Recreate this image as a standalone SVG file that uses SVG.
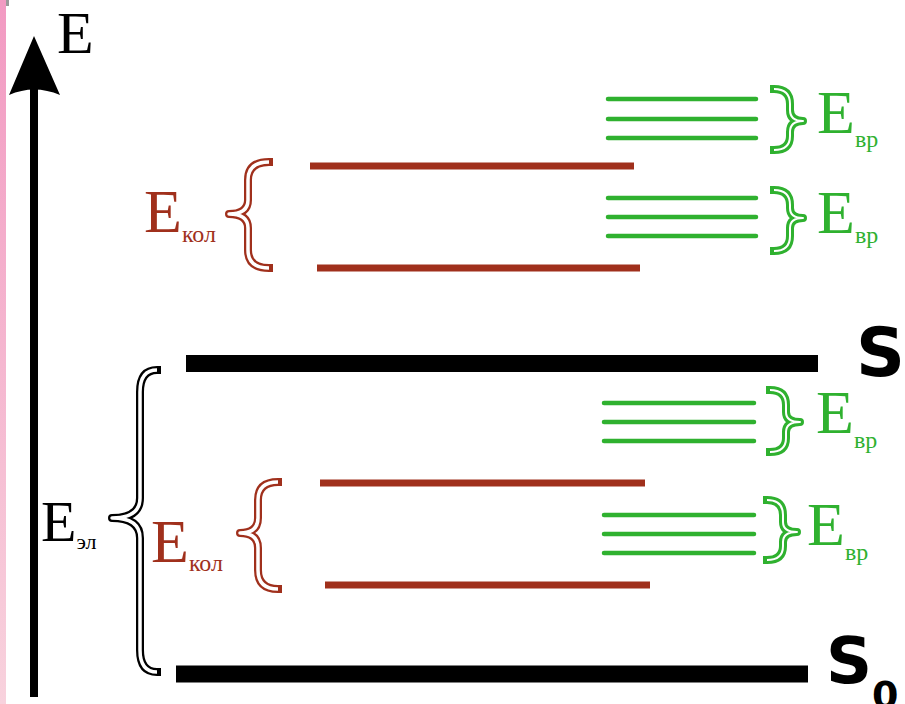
<svg xmlns="http://www.w3.org/2000/svg" width="905" height="704" viewBox="0 0 905 704">
<defs>
<linearGradient id="pink" x1="0" y1="0" x2="0" y2="1">
<stop offset="0" stop-color="#f29ac2"/>
<stop offset="1" stop-color="#f8d2dd"/>
</linearGradient>
</defs>
<style>
.lvl{stroke:#000;stroke-width:17;stroke-linecap:butt}
.vib{stroke:#a0301c;stroke-width:7;stroke-linecap:butt}
.rot{stroke:#2fb12f;stroke-width:4.5;stroke-linecap:round}
.bo{fill:none;stroke-linejoin:round;stroke-linecap:square}
.bi{fill:none;stroke:#fff;stroke-linejoin:round;stroke-linecap:butt}
.kb{stroke:#000;stroke-width:8}
.rb{stroke:#a0301c;stroke-width:8}
.gb{stroke:#2fb12f;stroke-width:8}
</style>
<rect x="0" y="0" width="905" height="704" fill="#fff"/>
<rect x="0" y="0" width="6" height="704" fill="url(#pink)"/>
<rect x="6" y="0" width="3" height="6" fill="#9a9a9a"/>

<g id="connectors">
<g id="axis">
<line x1="34" y1="80" x2="34" y2="697" stroke="#000" stroke-width="8"/>
<path d="M34,36 L60,95 Q34,84 9,95 Z" fill="#000"/>
<text x="57" y="53" font-family="Liberation Serif, DejaVu Serif, serif" font-size="60" fill="#000">E</text>
</g>
</g>

<g id="S1">
<line class="lvl" x1="186" y1="363.5" x2="818" y2="363.5"/>
<text x="856" y="376" font-family="DejaVu Sans, sans-serif" font-weight="bold" font-size="68" fill="#000">S<tspan font-size="38" dy="22">1</tspan></text>
</g>
<g id="S0">
<line class="lvl" x1="176" y1="674" x2="808" y2="674"/>
<text x="826" y="683" font-family="DejaVu Sans, sans-serif" font-weight="bold" font-size="64" fill="#000">S<tspan font-size="38" dy="25">0</tspan></text>
</g>

<g id="vib-upper">
<line class="vib" x1="310" y1="166" x2="634" y2="166"/>
<line class="vib" x1="317" y1="268" x2="640" y2="268"/>
</g>
<g id="vib-lower">
<line class="vib" x1="320" y1="483" x2="645" y2="483"/>
<line class="vib" x1="325" y1="585" x2="650" y2="585"/>
</g>

<g id="rot-1">
<line class="rot" x1="608" y1="99" x2="756" y2="99"/>
<line class="rot" x1="608" y1="119" x2="756" y2="119"/>
<line class="rot" x1="608" y1="138" x2="756" y2="138"/>
</g>
<g id="rot-2">
<line class="rot" x1="608" y1="198" x2="756" y2="198"/>
<line class="rot" x1="608" y1="217" x2="756" y2="217"/>
<line class="rot" x1="608" y1="236" x2="756" y2="236"/>
</g>
<g id="rot-3">
<line class="rot" x1="604" y1="403" x2="754" y2="403"/>
<line class="rot" x1="604" y1="422" x2="754" y2="422"/>
<line class="rot" x1="604" y1="441" x2="754" y2="441"/>
</g>
<g id="rot-4">
<line class="rot" x1="604" y1="515" x2="754" y2="515"/>
<line class="rot" x1="604" y1="534" x2="754" y2="534"/>
<line class="rot" x1="604" y1="553" x2="754" y2="553"/>
</g>

<g id="brace-el">
<path class="bo kb" d="M157,370 Q140,370 140,392 L140,498 Q140,518 112,518 Q140,518 140,538 L140,650 Q140,672 157,672"/>
<path class="bi" stroke-width="3.5" d="M157,370 Q140,370 140,392 L140,498 Q140,518 112,518 Q140,518 140,538 L140,650 Q140,672 157,672"/>
<text x="41" y="541" font-family="Liberation Serif, DejaVu Serif, serif" font-size="58" fill="#000">E<tspan font-size="22" dy="8">эл</tspan></text>
</g>

<g id="brace-kol-upper">
<path class="bo rb" d="M269,162 Q248,162 248,180 L248,200 Q248,214 229,214 Q248,214 248,228 L248,250 Q248,268 269,268"/>
<path class="bi" stroke-width="3.5" d="M269,162 Q248,162 248,180 L248,200 Q248,214 229,214 Q248,214 248,228 L248,250 Q248,268 269,268"/>
<text x="144" y="232" font-family="Liberation Serif, DejaVu Serif, serif" font-size="62" fill="#a0301c">E<tspan font-size="24" dy="10">кол</tspan></text>
</g>

<g id="brace-kol-lower">
<path class="bo rb" d="M278,482 Q258,482 258,500 L258,518 Q258,533 240,533 Q258,533 258,548 L258,570 Q258,589 278,589"/>
<path class="bi" stroke-width="3.5" d="M278,482 Q258,482 258,500 L258,518 Q258,533 240,533 Q258,533 258,548 L258,570 Q258,589 278,589"/>
<text x="151" y="562" font-family="Liberation Serif, DejaVu Serif, serif" font-size="62" fill="#a0301c">E<tspan font-size="24" dy="9">кол</tspan></text>
</g>

<g id="brace-vr-1">
<path class="bo gb" d="M774,89 Q790,89 790,104 L790,110 Q790,121 803,121 Q790,121 790,132 L790,136 Q790,150 774,150"/>
<path class="bi" stroke-width="2" d="M774,89 Q790,89 790,104 L790,110 Q790,121 803,121 Q790,121 790,132 L790,136 Q790,150 774,150"/>
<text x="817" y="133" font-family="Liberation Serif, DejaVu Serif, serif" font-size="62" fill="#2fb12f">E<tspan font-size="24" dy="14">вр</tspan></text>
</g>
<g id="brace-vr-2">
<path class="bo gb" d="M774,190 Q790,190 790,205 L790,208 Q790,218 803,218 Q790,218 790,228 L790,236 Q790,251 774,251"/>
<path class="bi" stroke-width="2" d="M774,190 Q790,190 790,205 L790,208 Q790,218 803,218 Q790,218 790,228 L790,236 Q790,251 774,251"/>
<text x="817" y="233" font-family="Liberation Serif, DejaVu Serif, serif" font-size="62" fill="#2fb12f">E<tspan font-size="24" dy="10">вр</tspan></text>
</g>
<g id="brace-vr-3">
<path class="bo gb" d="M770,390 Q786,390 786,405 L786,412 Q786,422 800,422 Q786,422 786,432 L786,438 Q786,452 770,452"/>
<path class="bi" stroke-width="2" d="M770,390 Q786,390 786,405 L786,412 Q786,422 800,422 Q786,422 786,432 L786,438 Q786,452 770,452"/>
<text x="816" y="433" font-family="Liberation Serif, DejaVu Serif, serif" font-size="62" fill="#2fb12f">E<tspan font-size="24" dy="15">вр</tspan></text>
</g>
<g id="brace-vr-4">
<path class="bo gb" d="M767,500 Q783,500 783,515 L783,522 Q783,532 797,532 Q783,532 783,542 L783,546 Q783,560 767,560"/>
<path class="bi" stroke-width="2" d="M767,500 Q783,500 783,515 L783,522 Q783,532 797,532 Q783,532 783,542 L783,546 Q783,560 767,560"/>
<text x="807" y="545" font-family="Liberation Serif, DejaVu Serif, serif" font-size="62" fill="#2fb12f">E<tspan font-size="24" dy="15">вр</tspan></text>
</g>
</svg>
